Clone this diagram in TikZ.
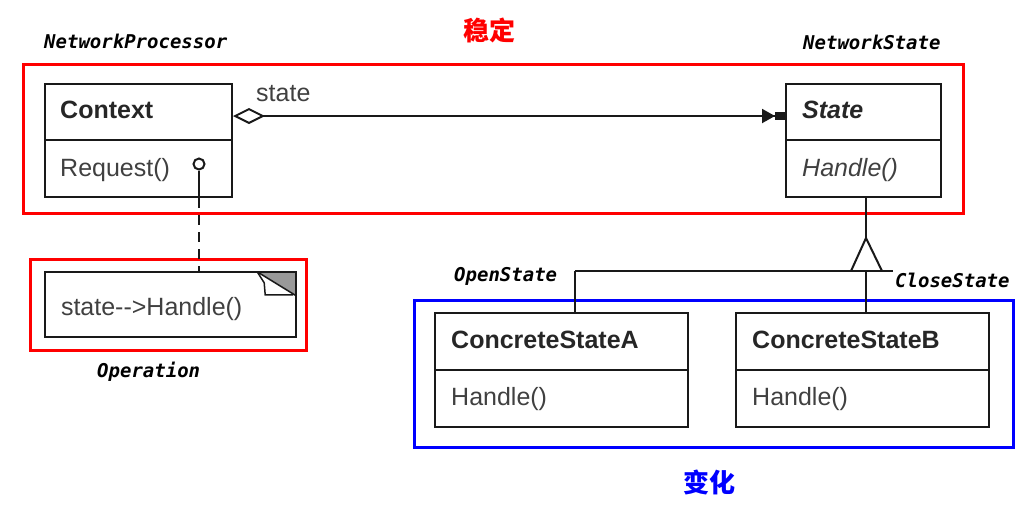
\documentclass[tikz,border=0pt]{standalone}
\usepackage{fontspec}
\setmainfont{Liberation Sans}
\setmonofont{DejaVu Sans Mono}
\newfontfamily\cjk{Noto Sans CJK SC}
\usetikzlibrary{arrows.meta,calc}
\begin{document}
\begin{tikzpicture}[x=1pt,y=-1pt,
  line/.style={line width=2pt, draw=black!90},
  compart/.style={line, rectangle, inner sep=0pt},
  clsname/.style={anchor=west, inner sep=0pt, font=\fontsize{25}{29}\selectfont\bfseries, text=black!85},
  opname/.style={anchor=west, inner sep=0pt, font=\fontsize{25}{29}\selectfont, text=black!75},
  tag/.style={anchor=west, inner sep=0pt, font=\fontsize{19}{22}\selectfont\ttfamily\bfseries\itshape},
  redframe/.style={draw=red, line width=3pt},
  blueframe/.style={draw=blue, line width=3pt},
  cjktitle/.style={inner sep=0pt, font=\fontsize{26}{30}\selectfont\cjk\bfseries}
]
\useasboundingbox (0,0) rectangle (1027,520);

% frames
\draw[redframe] (23,64) rectangle (963,213);
\draw[redframe] (30,259) rectangle (306,350);
\draw[blueframe] (414,300) rectangle (1013,447);

% titles
\node[cjktitle, text=red] (stable) at (489,30) {稳定};
\node[cjktitle, text=blue] (change) at (709,482) {变化};
\node[tag] (np) at (44,41) {NetworkProcessor};
\node[tag] (ns) at (803,42) {NetworkState};
\node[tag] (op) at (97,372) {Operation};
\node[tag] (os) at (454,276) {OpenState};
\node[tag] (cs) at (895,280) {CloseState};

% Context
\node[compart, minimum width=187pt, minimum height=56pt] (ctxhead) at (138.5,112) {};
\node[compart, minimum width=187pt, minimum height=57pt] (ctxbody) at (138.5,168.5) {};
\node[clsname] (ctxname) at ([xshift=16pt, yshift=2pt]ctxhead.west) {Context};
\node[opname] (ctxop) at ([xshift=16pt, yshift=-1.5pt]ctxbody.west) {Request()};

% State
\node[compart, minimum width=155pt, minimum height=56pt] (sthead) at (863.5,112) {};
\node[compart, minimum width=155pt, minimum height=57pt] (stbody) at (863.5,168.5) {};
\node[clsname, font=\fontsize{25}{29}\selectfont\bfseries\itshape] (stname) at ([xshift=17pt, yshift=2pt]sthead.west) {State};
\node[opname, font=\fontsize{25}{29}\selectfont\itshape] (stop) at ([xshift=17pt, yshift=-1.5pt]stbody.west) {Handle()};

% ConcreteStateA
\node[compart, minimum width=253pt, minimum height=57pt] (cahead) at (561.5,341.5) {};
\node[compart, minimum width=253pt, minimum height=57pt] (cabody) at (561.5,398.5) {};
\node[clsname] (caname) at ([xshift=17pt, yshift=1.5pt]cahead.west) {ConcreteStateA};
\node[opname] (caop) at ([xshift=17pt, yshift=-0.5pt]cabody.west) {Handle()};

% ConcreteStateB
\node[compart, minimum width=253pt, minimum height=57pt] (cbhead) at (862.5,341.5) {};
\node[compart, minimum width=253pt, minimum height=57pt] (cbbody) at (862.5,398.5) {};
\node[clsname] (cbname) at ([xshift=17pt, yshift=1.5pt]cbhead.west) {ConcreteStateB};
\node[opname] (cbop) at ([xshift=17pt, yshift=-0.5pt]cbbody.west) {Handle()};

% aggregation
\coordinate (aggy) at (0,116);
\draw[line, {Diamond[open, length=32pt, width=16pt]}-{Triangle[length=13pt, width=14pt] Rectangle[length=10pt, width=8pt]}]
  (ctxhead.east |- aggy) -- (sthead.west |- aggy);
\node[opname] (statelbl) at (256,94) {state};

% note
\node[inner sep=0pt, minimum width=251pt, minimum height=65pt] (note) at (170.5,304.5) {};
\node[opname] (notetext) at ([xshift=16pt, yshift=-4.5pt]note.west) {state{-}{-}>Handle()};
\fill[black!40] ([xshift=-39pt]note.north east) -- (note.north east) -- ([yshift=-24pt]note.north east) -- cycle;
\filldraw[fill=white, line width=1.5pt, draw=black!90] ([xshift=-39pt]note.north east) -- ([xshift=-32pt, yshift=-11pt]note.north east) -- ([xshift=-31pt, yshift=-23pt]note.north east) -- ([xshift=-3pt, yshift=-23pt]note.north east);
\draw[line width=1.5pt, draw=black!90] ([xshift=-39pt]note.north east) -- ([yshift=-24pt]note.north east);
\draw[line] (note.north west) rectangle (note.south east);

% lollipop + dashed link
\node[line, circle, inner sep=0pt, minimum size=11pt] (lol) at (199,164) {};
\draw[line] (lol.south) -- (lol |- ctxbody.south);
\draw[line, dash pattern=on 10pt off 7pt] (lol |- ctxbody.south) -- (lol |- note.north);

% inheritance
\coordinate (tip) at (866,238);
\coordinate (hy) at (866,271);
\coordinate (hl) at (575,271);
\coordinate (hr) at (893,271);
\draw[line] (stbody.south -| tip) -- (tip);
\draw[line, line join=miter] (851,271) -- (tip) -- (882,271);
\draw[line] (hl) -- (hr);
\draw[line] (hl) -- (hl |- cahead.north);
\draw[line] (hy) -- (hy |- cbhead.north);
\end{tikzpicture}
\end{document}
